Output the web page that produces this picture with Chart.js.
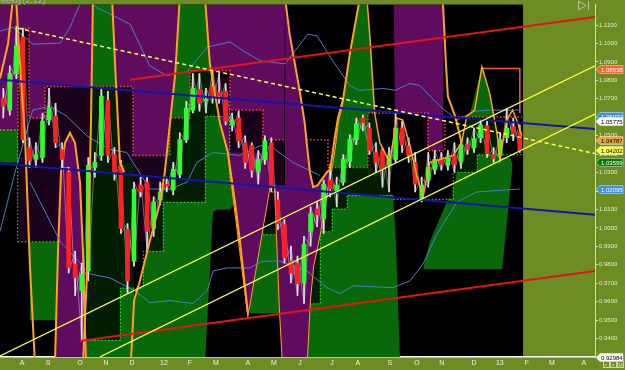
<!DOCTYPE html>
<html>
<head>
<meta charset="utf-8">
<script src="https://cdn.jsdelivr.net/npm/chart.js@4.4.0/dist/chart.umd.min.js"></script>
<style>
  html, body { margin: 0; padding: 0; background: #6e8c24; }
  #chart { display: block; }
</style>
</head>
<body>
<canvas id="chart" width="625" height="370"></canvas>
<script>
// Weekly candles (x = week index + 0.5)
const opens  = [1.0703,1.0639,1.0837,1.1035,1.0435,1.0372,1.0382,1.0586,1.0607,1.0425,1.0302,0.9804,0.9660,0.9767,1.0328,1.0393,1.0693,1.0398,1.0339,0.9992,0.9820,1.0232,1.0248,0.9997,1.0152,1.0237,1.0206,1.0291,1.0479,1.0639,1.0751,1.0687,1.0767,1.0735,1.0741,1.0558,1.0596,1.0462,1.0446,1.0307,1.0372,1.0462,1.0152,1.0018,0.9820,0.9809,0.9702,0.9981,1.0104,1.0051,1.0259,1.0195,1.0248,1.0360,1.0479,1.0596,1.0542,1.0409,1.0420,1.0339,1.0372,1.0542,1.0446,1.0355,1.0158,1.0259,1.0318,1.0366,1.0339,1.0393,1.0360,1.0451,1.0435,1.0489,1.0553,1.0398,1.0393,1.0489,1.0548,1.0521];
const highs  = [1.0757,1.0879,1.1093,1.1083,1.0489,1.0462,1.0623,1.0757,1.0676,1.0462,1.0328,0.9874,0.9809,1.0382,1.0409,1.0757,1.0741,1.0435,1.0366,1.0023,1.0248,1.0275,1.0275,1.0168,1.0248,1.0275,1.0355,1.0516,1.0687,1.0837,1.0837,1.0757,1.0848,1.0837,1.0783,1.0623,1.0633,1.0500,1.0462,1.0420,1.0500,1.0489,1.0195,1.0045,0.9901,0.9847,0.9954,1.0114,1.0141,1.0259,1.0344,1.0275,1.0398,1.0505,1.0596,1.0612,1.0569,1.0462,1.0435,1.0435,1.0623,1.0580,1.0489,1.0409,1.0275,1.0409,1.0420,1.0409,1.0420,1.0462,1.0473,1.0489,1.0542,1.0586,1.0580,1.0435,1.0516,1.0649,1.0596,1.0558];
const lows   = [1.0596,1.0612,1.0810,1.0462,1.0328,1.0328,1.0355,1.0558,1.0435,1.0328,0.9756,0.9633,0.9392,0.9713,1.0275,1.0366,1.0355,1.0259,0.9970,0.9649,0.9793,1.0168,0.9874,0.9954,1.0125,1.0195,1.0179,1.0270,1.0462,1.0623,1.0633,1.0623,1.0676,1.0676,1.0558,1.0526,1.0435,1.0323,1.0275,1.0237,1.0344,1.0195,0.9992,0.9809,0.9702,0.9633,0.9590,0.9901,1.0007,0.9970,1.0168,1.0114,1.0232,1.0328,1.0451,1.0526,1.0398,1.0302,1.0221,1.0195,1.0355,1.0409,1.0355,1.0195,1.0141,1.0221,1.0291,1.0313,1.0313,1.0302,1.0323,1.0398,1.0409,1.0462,1.0382,1.0355,1.0366,1.0462,1.0473,1.0409];
const closes = [1.0660,1.0837,1.0986,1.0479,1.0366,1.0398,1.0580,1.0649,1.0462,1.0372,0.9783,0.9730,0.9751,1.0339,1.0355,1.0714,1.0393,1.0302,0.9997,0.9713,1.0211,1.0195,0.9981,1.0141,1.0195,1.0227,1.0318,1.0479,1.0649,1.0757,1.0676,1.0697,1.0714,1.0714,1.0580,1.0586,1.0473,1.0355,1.0313,1.0372,1.0473,1.0221,1.0023,0.9837,0.9756,0.9697,0.9911,1.0077,1.0072,1.0237,1.0211,1.0232,1.0372,1.0479,1.0564,1.0569,1.0420,1.0355,1.0318,1.0393,1.0542,1.0451,1.0393,1.0237,1.0232,1.0328,1.0372,1.0344,1.0377,1.0344,1.0451,1.0425,1.0484,1.0558,1.0403,1.0377,1.0479,1.0542,1.0511,1.0420];

// Axis ticks
const monthLabels = ['A','S','O','N','D','12','F','M','A','M','J','J','A','S','O','N','D','13','F','M','A'];
const monthPos = [3.36,7.34,12.23,16.21,20.18,25.08,29.05,33.03,37.92,41.9,45.87,50.76,54.74,59.63,63.76,67.58,72.48,76.45,80.58,84.4,89.3];
const yTicks = [0.94,0.95,0.96,0.97,0.98,0.99,1.00,1.01,1.02,1.03,1.04,1.05,1.06,1.07,1.08,1.09,1.10,1.11];

// Price tags on the right axis
const tagValues = [1.08638,1.06072,1.05775,1.04787,1.04202,1.03599,1.02095,0.92984];
const tagColors = ['#f0683a','#3b8ff0','#ffffff','#f0a23a','#ffff33','#0b7a0b','#3b8ff0','#ffffff'];
const tagText   = ['#ffffff','#ffffff','#000000','#000000','#000000','#ffffff','#ffffff','#000000'];

// Cloud areas [week, price]
const purpleEdge = [[0,1.0532],[2.75,1.0532],[2.83,0.9927],[38.2,0.9927],[43.4,1.0195],[43.6,1.125],[60.2,1.125],[60.4,1.0623],[64.7,1.0623],[64.8,1.0419],[67.7,1.0419],[67.9,1.125],[80,1.125]];
const greenEdge = [[13.15,0.926],[13.46,0.9874],[13.91,1.0569],[14.22,1.125],[17.13,1.125],[17.74,1.0783],[18.35,1.0355],[20.34,1.0355],[20.5,0.9606],[21.4,0.9713],[22.9,0.9927],[24.5,1.0141],[25.2,1.0302],[26.0,1.0569],[26.8,1.0837],[27.5,1.125],[31.35,1.125],[32.1,1.0890],[33.64,1.0569],[34.86,1.0409],[35.93,1.0141],[36.7,0.9927],[37.92,0.9536],[38.2,0.926],[46.9,0.926],[47.4,0.9606],[47.9,0.9793],[48.6,0.9911],[48.9,0.9964],[50.0,1.0195],[50.5,1.0275],[51.2,1.0435],[51.7,1.0580],[52.45,1.0692],[53.5,1.0944],[55.05,1.125],[55.96,1.125],[56.6,1.1024],[57.3,1.0623],[58.1,1.0462],[58.9,1.0302],[60.1,1.0178],[60.55,0.9927],[61.2,0.926]];
const blackPatch = [[31.35,0.926],[32.57,1.0088],[33.18,1.0098],[35.17,1.0098],[35.93,1.0141],[37.92,0.9536],[42.81,0.9536],[43.27,0.926]];
const blockATop = [[0,1.0532],[3.06,1.0532]];
const blockABot = [[0,1.0355],[3.06,1.0355]];
const blockBTop = [[4.59,0.9927],[9.33,0.9927]];
const blockBBot = [[4.59,0.9499],[9.33,0.9499]];
const blockCTop = [[64.7,0.9777],[65.75,0.9927],[68.0,1.0114],[69.6,1.0248],[70.3,1.0409],[71.9,1.0623],[73.7,1.0874],[74.9,1.0730],[76.0,1.0516],[76.45,1.0382],[78.0,1.0382],[78.4,1.0344]];
const blockCBot = [[64.7,0.9777],[76.8,0.9777],[78.4,1.0344]];
const blockDTop = [[38.23,0.9997],[43.27,0.9997]];
const blockDBot = [[38.23,0.9536],[43.27,0.9536]];
const valleyA = [[8.4,0.926],[8.87,0.9874],[9.33,1.0302],[9.94,1.0462],[10.7,1.0516],[11.47,1.0462],[12.23,1.0248],[12.69,0.9874],[13.15,0.926]];
const valleyBTop = [[34.86,1.0409],[41.59,1.0409]];
const valleyBBot = [[34.86,1.0409],[37.92,0.9536],[41.28,1.0232],[41.45,1.0409]];
const valleyCTop = [[42.05,1.0232],[43.58,1.0232],[43.65,1.125],[44.3,1.1051],[45.1,1.0890],[45.9,1.0730],[46.6,1.0569],[46.9,1.0462],[47.4,1.0302],[47.9,1.0221],[48.6,1.0232],[48.9,1.0248],[50.0,1.0302],[50.5,1.0318],[51.2,1.0489],[51.7,1.0596],[52.45,1.0692]];
const valleyCBot = [[42.05,1.0232],[42.81,0.9553],[43.27,0.926],[46.9,0.926],[47.4,0.9606],[47.9,0.9793],[48.6,0.9911],[48.9,0.9964],[50.0,1.0195],[50.5,1.0275],[51.2,1.0435],[51.7,1.0580],[52.45,1.0692]];

// Channel (dotted steps)
const donHi = [[0,1.0532],[2.75,1.0532],[2.75,1.1083],[4.43,1.1083],[4.43,1.0596],[6.88,1.0596],[6.88,1.0767],[20.34,1.0767],[20.34,1.0393],[25.99,1.0393],[25.99,1.0596],[29.05,1.0596],[29.05,1.0853],[35.17,1.0853],[35.17,1.0639],[40.21,1.0639],[40.21,1.0478],[50.15,1.0478],[50.15,1.0328],[56.27,1.0328],[56.27,1.0623],[65.44,1.0623],[65.44,1.0419],[68.04,1.0419],[68.04,1.0601],[79.82,1.0601]];
const donLo = [[0,1.0532],[2.75,1.0532],[2.75,0.9927],[12.54,0.9927],[12.54,0.9392],[18.35,0.9392],[18.35,0.9676],[21.87,0.9676],[21.87,0.9874],[24.92,0.9874],[24.92,1.0141],[31.35,1.0141],[31.35,1.0606],[35.17,1.0606],[35.17,1.0232],[40.21,1.0232],[40.21,0.9964],[44.8,0.9964],[44.8,0.9590],[48.93,0.9590],[48.93,0.9981],[50.76,0.9981],[50.76,1.0104],[53.06,1.0104],[53.06,1.0178],[60.09,1.0178],[60.09,1.0157],[69.27,1.0157],[69.27,1.0302],[72.94,1.0302],[72.94,1.0398],[79.82,1.0398]];

// Thin bands
const bandUp = [[0,1.1067],[2.0,1.1088],[3.8,1.1034],[5.0,1.0997],[9.2,1.1002],[10.7,1.1088],[12.2,1.1211],[13.5,1.1238],[14.8,1.1195],[17.9,1.1141],[19.9,1.1104],[22.9,1.0879],[25.5,1.0826],[28.6,1.0847],[31.7,1.0981],[35.2,1.1008],[37.2,1.0960],[39.8,1.0906],[43.6,1.0890],[47.1,1.1051],[48.5,1.1040],[50.9,1.0906],[53.5,1.0772],[55.0,1.0746],[58.6,1.0756],[60.4,1.0746],[62.7,1.0783],[64.2,1.0772],[67.3,1.0660],[69.9,1.0585],[72.6,1.0633],[74.9,1.0639],[79.5,1.0639]];
const bandMid = [[0,0.9981],[2.3,1.0302],[5.0,1.0639],[7.6,1.0660],[10.2,1.0606],[13.3,1.0499],[16.8,1.0425],[19.4,1.0409],[22.9,1.0211],[26.0,1.0211],[28.6,1.0248],[30.1,1.0355],[32.6,1.0409],[36.7,1.0393],[39.8,1.0446],[41.7,1.0435],[44.8,1.0355],[48.9,1.0285]];
const bandLow = [[4.6,1.0248],[9.2,0.9927],[13.8,0.9750],[16.8,0.9729],[20.6,0.9660],[22.9,0.9595],[26.0,0.9606],[29.5,0.9590],[31.7,0.9660],[32.6,0.9767],[34.7,0.9783],[38.2,0.9783],[40.2,0.9820],[42.8,0.9820],[46.9,0.9767],[50.0,0.9676],[52.0,0.9643],[54.0,0.9686],[60.1,0.9676],[62.7,0.9713],[64.7,0.9804],[66.8,0.9964],[69.9,1.0141],[72.9,1.0195],[79.5,1.0211]];

// Orange cloud edges
const orangeLines = [
  [[0,1.0810],[1.22,1.0997],[2.0,1.125]],
  [[2.45,1.125],[3.06,1.0890],[3.82,1.0499],[4.59,0.9783],[5.35,0.926]],
  [[12.69,0.926],[13.46,0.9874],[13.91,1.0569],[14.22,1.125]],
  [[17.13,1.125],[17.74,1.0783],[18.35,1.0355],[19.0,1.0302]],
  [[20.0,0.926],[20.5,0.9606],[21.4,0.9713],[22.9,0.9927],[24.5,1.0141],[25.2,1.0302],[26.0,1.0569],[26.8,1.0837],[27.5,1.125]],
  [[31.35,1.125],[32.1,1.0890],[33.64,1.0569],[34.86,1.0409],[35.93,1.0141],[36.7,0.9927],[37.92,0.9536]],
  [[43.58,1.125],[44.3,1.1051],[45.1,1.0890],[45.9,1.0730],[46.6,1.0569],[46.9,1.0462],[47.4,1.0302],[47.9,1.0221],[48.6,1.0232],[48.9,1.0248],[50.0,1.0302],[50.5,1.0318],[51.2,1.0489],[51.7,1.0596],[52.45,1.0692],[53.5,1.0944],[55.05,1.125]],
  [[67.7,1.125],[68.2,1.0890],[68.5,1.0713],[69.6,1.0606],[70.6,1.0462]]
];
const fastLine = [[56.1,1.125],[56.6,1.1024],[57.3,1.0623],[58.1,1.0462],[59.6,1.0355],[60.7,1.0596],[61.6,1.0585],[62.7,1.0446],[63.8,1.0275],[64.7,1.0168],[65.75,1.0355],[67.3,1.0371],[69.3,1.0393],[70.6,1.0462],[71.4,1.0606],[72.6,1.0639],[73.7,1.0874],[74.9,1.0730],[76.0,1.0516],[76.45,1.0371],[77.5,1.0585],[78.4,1.0639],[79.2,1.0569],[79.8,1.0499]];
const levelStep = [[73.7,1.0864],[79.5,1.0864],[79.5,1.0623]];

// Trend lines
const yellowA = [[0,0.9306],[91,1.0879]];
const yellowB = [[15.3,0.9301],[91,1.0617]];
const yellowDash = [[2.75,1.1083],[91,1.0403]];
const redUpper = [[19.9,1.0804],[91,1.1144]];
const redLower = [[12.2,0.9387],[91,0.9767]];
const blueUpper = [[0,1.0804],[91,1.0537]];
const blueLower = [[0,1.0350],[91,1.0071]];

const PURPLE = '#5f0c5f';
const GREEN = '#096809';
const ORANGE = '#ffa21e';
const NONE = 'rgba(0,0,0,0)';

const pts = arr => arr.map(p => ({ x: p[0], y: p[1] }));

function lineSet(data, color, width, extra) {
    return Object.assign({
        type: 'line',
        data: pts(data),
        borderColor: color,
        borderWidth: width,
        pointRadius: 0,
        pointHoverRadius: 0,
        tension: 0,
        fill: false,
        order: 20
    }, extra || {});
}

// two lines with the area between them
function band(top, bottom, color, order, edgeTop, edgeBottom) {
    datasets.push(lineSet(top, edgeTop || NONE, edgeTop ? 2 : 0, { fill: '+1', backgroundColor: color, order: order }));
    datasets.push(lineSet(bottom, edgeBottom || NONE, edgeBottom ? 2 : 0, { order: order }));
}

const datasets = [];
datasets.push(lineSet(purpleEdge, NONE, 0, { fill: 'end', backgroundColor: PURPLE, order: 100 }));
datasets.push(lineSet(greenEdge, NONE, 0, { fill: 'start', backgroundColor: GREEN, order: 95 }));
band(blockATop, blockABot, GREEN, 95);
band(blockBTop, blockBBot, GREEN, 95);
band(blockCTop, blockCBot, GREEN, 95);
band(blockDTop, blockDBot, GREEN, 95);
datasets.push(lineSet(blackPatch, NONE, 0, { fill: 'start', backgroundColor: '#000000', order: 93 }));
// dark channel overlay
datasets.push(lineSet(donHi, '#ff3b3b', 1.5, { fill: '+1', backgroundColor: 'rgba(0,0,0,0.72)', borderDash: [1.5, 2], order: 90 }));
datasets.push(lineSet(donLo, '#3cff3c', 1.5, { borderDash: [1.5, 2], order: 90 }));
// purple valleys
datasets.push(lineSet(valleyA, ORANGE, 2, { fill: 'start', backgroundColor: PURPLE, order: 85 }));
band(valleyBTop, valleyBBot, PURPLE, 85, null, ORANGE);
band(valleyCTop, valleyCBot, PURPLE, 85, null, ORANGE);
// thin bands
[bandUp, bandMid, bandLow].forEach(b => datasets.push(lineSet(b, '#4c7dc2', 1, { order: 80 })));
// high/low lattice
datasets.push({ type: 'line', data: highs.map((h, i) => ({ x: i + 0.5, y: i % 2 ? lows[i] : h })), borderColor: 'rgba(225,225,225,0.55)', borderWidth: 0.8, pointRadius: 0, tension: 0, fill: false, order: 70 });
datasets.push({ type: 'line', data: highs.map((h, i) => ({ x: i + 0.5, y: i % 2 ? h : lows[i] })), borderColor: 'rgba(225,225,225,0.55)', borderWidth: 0.8, pointRadius: 0, tension: 0, fill: false, order: 70 });
// candles
datasets.push({
    type: 'bar',
    data: lows.map((l, i) => ({ x: i + 0.5, y: [l, highs[i]] })),
    backgroundColor: '#e0e0e0',
    barThickness: 1,
    grouped: false,
    order: 50
});
datasets.push({
    type: 'bar',
    data: opens.map((o, i) => ({ x: i + 0.5, y: [o, closes[i]] })),
    backgroundColor: opens.map((o, i) => closes[i] >= o ? '#2cff2c' : '#ff2020'),
    barThickness: 4,
    minBarLength: 1,
    grouped: false,
    order: 45
});
// orange lines above candles
orangeLines.forEach(l => datasets.push(lineSet(l, ORANGE, 2, { order: 40 })));
datasets.push(lineSet(fastLine, ORANGE, 1.5, { order: 40 }));
datasets.push(lineSet(levelStep, '#ff5a2a', 1.5, { order: 40 }));
// trend lines
datasets.push(lineSet(blueUpper, '#1414a8', 2, { order: 30 }));
datasets.push(lineSet(blueLower, '#1414a8', 2, { order: 30 }));
datasets.push(lineSet(redUpper, '#e41414', 2, { order: 25 }));
datasets.push(lineSet(redLower, '#e41414', 2, { order: 25 }));
datasets.push(lineSet(yellowA, '#ffff3c', 1.3, { order: 20 }));
datasets.push(lineSet(yellowB, '#ffff3c', 1.3, { order: 20 }));
datasets.push(lineSet(yellowDash, '#ffff50', 1.5, { borderDash: [4, 3], order: 20 }));

const backdrop = {
    id: 'backdrop',
    beforeDraw(chart) {
        const ctx = chart.ctx;
        const area = chart.chartArea;
        const xEnd = chart.scales.x.getPixelForValue(80);
        ctx.save();
        ctx.fillStyle = '#6e8c24';
        ctx.fillRect(0, 0, chart.width, chart.height);
        ctx.fillStyle = '#000000';
        ctx.fillRect(area.left, area.top, xEnd - area.left, area.bottom - area.top);
        ctx.restore();
    }
};

const tagsPlugin = {
    id: 'tags',
    afterDraw(chart) {
        const ctx = chart.ctx;
        const yScale = chart.scales.y;
        const x0 = chart.chartArea.right + 1;
        ctx.save();
        ctx.font = '6px "Liberation Sans", Arial, sans-serif';
        ctx.textBaseline = 'middle';
        tagValues.forEach((v, i) => {
            const py = Math.round(yScale.getPixelForValue(v)) + 0.5;
            ctx.beginPath();
            ctx.moveTo(x0, py);
            ctx.lineTo(x0 + 4, py - 4);
            ctx.lineTo(x0 + 27, py - 4);
            ctx.lineTo(x0 + 27, py + 4);
            ctx.lineTo(x0 + 4, py + 4);
            ctx.closePath();
            ctx.fillStyle = tagColors[i];
            ctx.fill();
            ctx.lineWidth = 0.6;
            ctx.strokeStyle = 'rgba(255,255,255,0.7)';
            ctx.stroke();
            ctx.fillStyle = tagText[i];
            ctx.fillText(v.toFixed(5), x0 + 5, py + 0.5);
        });
        // title, cut by the top edge
        ctx.font = '9px "Liberation Sans", Arial, sans-serif';
        ctx.textBaseline = 'alphabetic';
        ctx.fillStyle = '#b4b4b4';
        ctx.fillText('Weekly(2.12)', -7, 3);
        // scroll marker and buttons
        ctx.strokeStyle = '#b9c98e';
        ctx.lineWidth = 1;
        ctx.beginPath();
        ctx.moveTo(578.5, 1); ctx.lineTo(578.5, 10); ctx.lineTo(586, 5.5); ctx.closePath();
        ctx.moveTo(588.5, 1); ctx.lineTo(588.5, 10);
        ctx.stroke();
        ['<', '>', 'M'].forEach((s, i) => {
            const bx = 603 + i * 7;
            ctx.strokeStyle = '#c9d3a6';
            ctx.strokeRect(bx + 0.5, 361.5, 6, 6);
            ctx.fillStyle = '#e8eed4';
            ctx.font = '5px "Liberation Sans", Arial, sans-serif';
            ctx.fillText(s, bx + 1.5, 366.5);
        });
        ctx.restore();
    }
};

new Chart(document.getElementById('chart'), {
    type: 'line',
    data: { datasets: datasets },
    options: {
        responsive: false,
        devicePixelRatio: 1,
        animation: false,
        layout: { padding: 0 },
        plugins: { legend: { display: false }, tooltip: { enabled: false } },
        scales: {
            x: {
                type: 'linear',
                min: 0,
                max: 91,
                offset: false,
                afterFit: s => { s.height = 13; },
                afterBuildTicks: s => { s.ticks = monthPos.map(v => ({ value: v })); },
                grid: { drawOnChartArea: false, drawTicks: false },
                border: { display: true, color: '#ffffff', width: 1.5 },
                ticks: {
                    autoSkip: false,
                    maxRotation: 0,
                    minRotation: 0,
                    padding: 2,
                    color: '#eef2dc',
                    font: { size: 7, family: 'Liberation Sans' },
                    callback: (v, i) => monthLabels[i]
                }
            },
            y: {
                type: 'linear',
                position: 'right',
                min: 0.93,
                max: 1.1211,
                afterFit: s => { s.width = 30; },
                afterBuildTicks: s => { s.ticks = yTicks.map(v => ({ value: v })); },
                grid: { drawOnChartArea: false, drawTicks: true, tickLength: 3, color: '#d6dcb8' },
                border: { display: true, color: '#d6dcb8', width: 1 },
                ticks: {
                    padding: 1,
                    color: '#e4ead0',
                    font: { size: 6, family: 'Liberation Sans' },
                    callback: v => v.toFixed(4)
                }
            }
        }
    },
    plugins: [backdrop, tagsPlugin]
});
</script>
</body>
</html>
